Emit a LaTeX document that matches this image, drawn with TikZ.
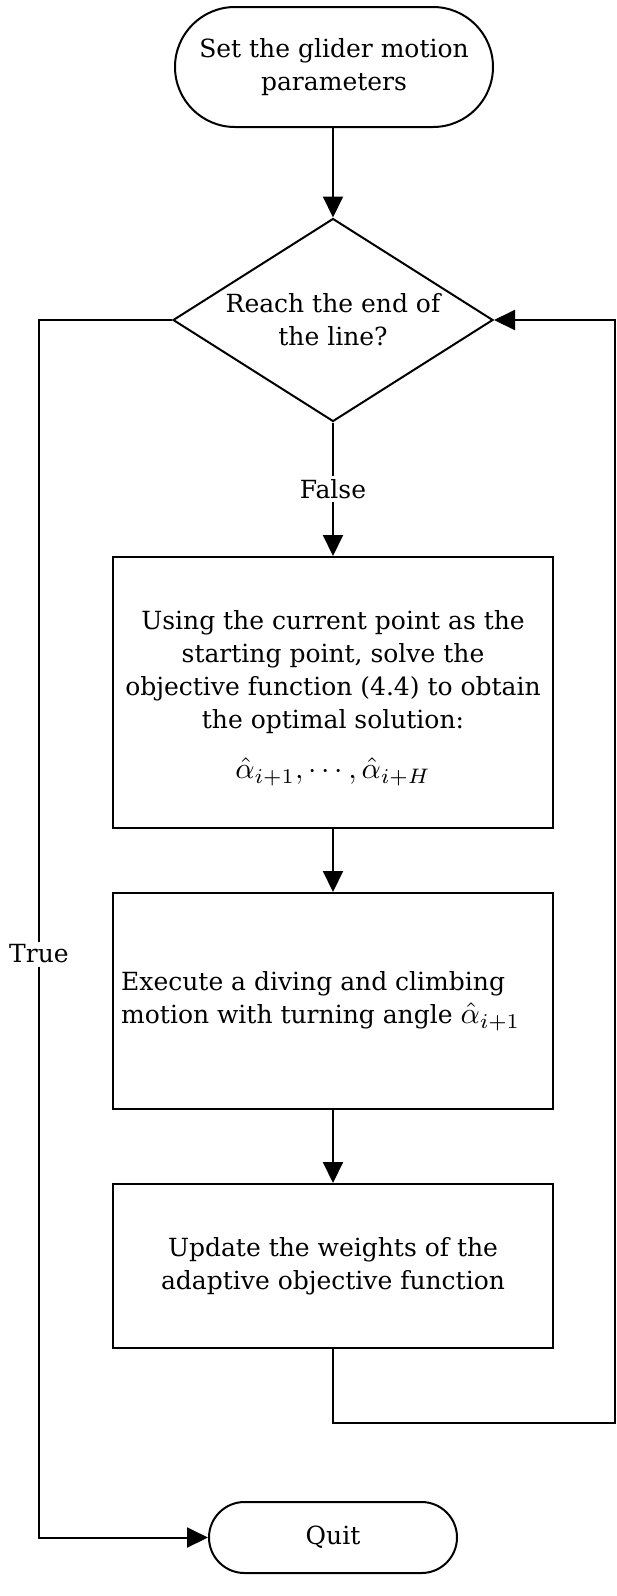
\documentclass[tikz,border=0pt]{standalone}
\usepackage{fontspec}
\setmainfont{DejaVu Serif}
\usetikzlibrary{shapes.geometric,shapes.misc,arrows.meta}
\newcommand{\bigmath}[1]{\scalebox{3}{\fontsize{10}{12}\selectfont$#1$}}
\begin{document}
\begin{tikzpicture}[x=1pt,y=-1pt,
  every node/.style={font=\fontsize{25}{33}\selectfont},
  conn/.style={line width=2pt},
  arr/.style={line width=2pt, -{Triangle[length=21pt,width=20pt]}},
  term/.style={draw, line width=2pt, rounded rectangle, inner sep=0pt, align=center},
  decision/.style={draw, line width=2pt, diamond, minimum width=320pt, minimum height=203pt, inner sep=0pt},
  proc/.style={draw, line width=2pt, rectangle, minimum width=440pt, inner sep=0pt},
  lbl/.style={inner sep=3pt}
]
\useasboundingbox (0,0) rectangle (617,1596);
\node[term, minimum width=318pt, minimum height=120pt] (start) at (334,67) {Set the glider motion\\parameters};
\node[decision] (dec) at (333,320) {};
\node[align=center, inner sep=0pt] (dectxt) at (333,320) {Reach the end of\\the line?};
\node[lbl] (false) at (333,489) {False};
\node[proc, minimum height=271pt] (b1) at (333,692.5) {};
\node[align=center, inner sep=0pt] (b1txt) at (333,698) {Using the current point as the\\starting point, solve the\\objective function (4.4) to obtain\\the optimal solution:\\[17pt]\bigmath{\hat{\alpha}_{i+1},\cdots,\hat{\alpha}_{i+H}}};
\node[proc, minimum height=216pt] (b2) at (333,1001) {};
\node[align=left, anchor=west, inner sep=0pt] (b2txt) at ([xshift=9pt]b2.west) {Execute a diving and climbing\\motion with turning angle \bigmath{\hat{\alpha}_{i+1}}};
\node[proc, minimum height=164pt, align=center] (b3) at (333,1266) {Update the weights of the\\adaptive objective function};
\node[term, minimum width=248pt, minimum height=71pt] (quit) at (333,1537.5) {Quit};
\node[lbl] (true) at (39,954) {True};
\coordinate (loopc) at (615,1423);
\draw[arr] (start.south -| dec.north) -- (dec.north);
\draw[conn] (dec.south) -- (false.north);
\draw[arr] (false.south) -- (b1.north);
\draw[arr] (b1.south) -- (b2.north);
\draw[arr] (b2.south) -- (b3.north);
\draw[arr] (b3.south) |- (loopc) |- (dec.east);
\draw[conn] (dec.west) -| (true.north);
\draw[arr] (true.south) |- (quit.west);
\end{tikzpicture}
\end{document}
